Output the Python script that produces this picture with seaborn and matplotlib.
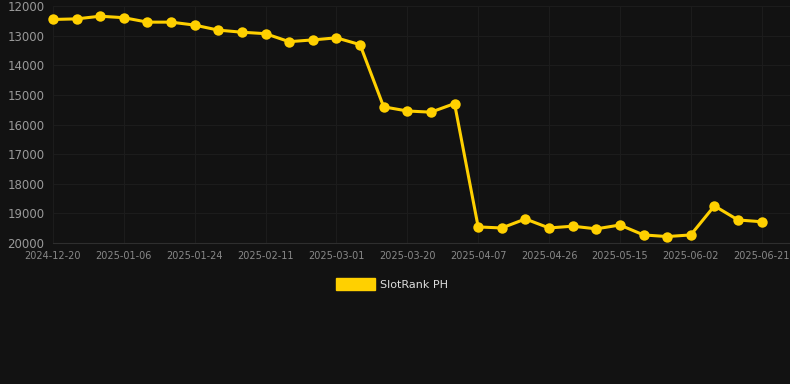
import seaborn as sns
import matplotlib.pyplot as plt
import matplotlib.patches as mpatches
import pandas as pd

# weekly rank values (lower on screen = worse rank)
rank = [12450, 12430, 12340, 12390, 12540, 12540, 12640, 12810, 12880, 12930,
        13200, 13140, 13070, 13300, 15400, 15540, 15580, 15290, 19455, 19490,
        19185, 19490, 19430, 19520, 19390, 19725, 19780, 19725, 18745, 19220,
        19280]
tick_labels = ['2024-12-20', '2025-01-06', '2025-01-24', '2025-02-11', '2025-03-01',
               '2025-03-20', '2025-04-07', '2025-04-26', '2025-05-15', '2025-06-02',
               '2025-06-21']
y_ticks = [12000, 13000, 14000, 15000, 16000, 17000, 18000, 19000, 20000]

df = pd.DataFrame({'step': range(len(rank)), 'rank': rank})

bg = '#121212'
gold = '#FFD000'

sns.set_style("dark")
fig = plt.figure(figsize=(7.9, 3.84), dpi=100, facecolor=bg)
ax = fig.add_axes([0.067, 0.367, 0.933, 0.617])
ax.set_facecolor(bg)

sns.lineplot(data=df, x='step', y='rank', color=gold, linewidth=2.2,
             marker='o', markersize=7.5, markeredgewidth=0, ax=ax)

ax.set_ylim(20000, 12000)
ax.set_xlim(0, 31.2)
ax.set_yticks(y_ticks)
ax.set_xticks(range(0, len(rank), 3))
ax.set_xticklabels(tick_labels)
ax.set_xlabel('')
ax.set_ylabel('')

ax.grid(True, color='#1c1c1c', linewidth=0.8)
ax.tick_params(axis='y', colors='#999999', labelsize=8.5, length=0, pad=6)
ax.tick_params(axis='x', colors='#888888', labelsize=7, length=0, pad=6)
for s in ['top', 'right', 'left']:
    ax.spines[s].set_visible(False)
ax.spines['bottom'].set_color('#2e2e2e')
ax.spines['bottom'].set_linewidth(0.8)
for p in ax.get_lines():
    p.set_clip_on(False)

handle = mpatches.Patch(color=gold, label='SlotRank PH')
leg = fig.legend(handles=[handle], loc='center', bbox_to_anchor=(0.496, 0.26),
                 frameon=False, fontsize=8, handlelength=3.5, handleheight=1.2,
                 handletextpad=0.5, labelcolor='#dddddd')

fig.savefig('out.png', dpi=100, facecolor=bg)
